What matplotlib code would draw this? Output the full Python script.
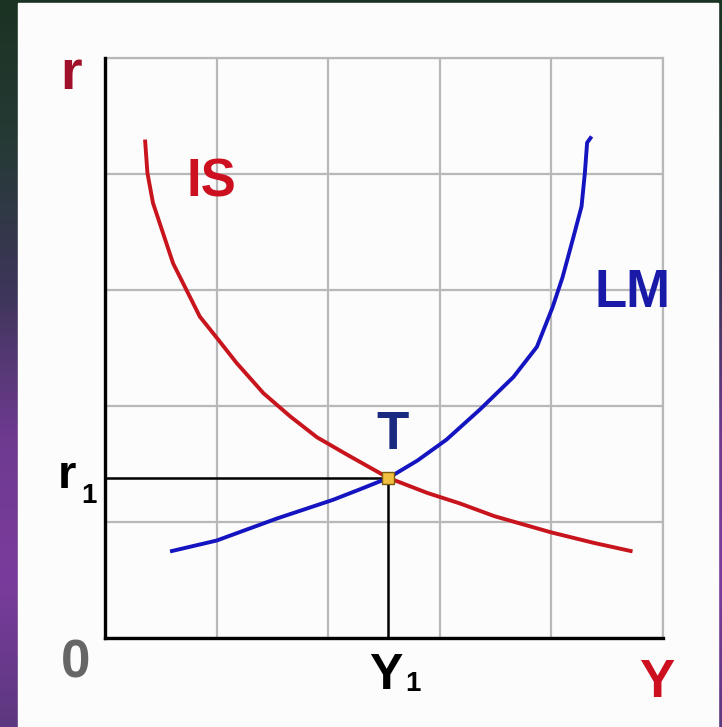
import numpy as np
import matplotlib.pyplot as plt
from matplotlib.colors import LinearSegmentedColormap
from matplotlib.patches import Rectangle

# IS curve (grid units)
is_x = [0.36, 0.38, 0.43, 0.52, 0.61, 0.73, 0.85, 1.00, 1.18, 1.42, 1.66, 1.90, 2.17,
        2.54, 2.89, 3.18, 3.49, 4.00, 4.38, 4.71]
is_y = [4.28, 4.01, 3.75, 3.49, 3.23, 3.00, 2.77, 2.59, 2.37, 2.11, 1.91, 1.73, 1.58,
        1.38, 1.25, 1.16, 1.05, 0.91, 0.82, 0.75]

# LM curve
lm_x = [0.60, 1.00, 1.54, 2.04, 2.28, 2.54, 2.80, 3.06, 3.36, 3.66, 3.87, 4.01, 4.10,
        4.19, 4.27, 4.30, 4.32, 4.35]
lm_y = [0.75, 0.84, 1.03, 1.19, 1.28, 1.38, 1.53, 1.71, 1.97, 2.25, 2.51, 2.85, 3.11,
        3.43, 3.72, 4.01, 4.27, 4.31]

# equilibrium point T
eq_x = 2.54
eq_y = 1.38

W, H = 722, 727
fig = plt.figure(figsize=(W / 100, H / 100), dpi=100)

# slide background
bg = fig.add_axes([0, 0, 1, 1])
cmap = LinearSegmentedColormap.from_list(
    "slide", ["#1b3322", "#263a36", "#3d3659", "#6e3a90", "#7a3c9c", "#5c3880"])
grad = np.linspace(0, 1, 256).reshape(-1, 1)
bg.imshow(grad, cmap=cmap, aspect="auto", extent=[0, 1, 0, 1], origin="upper")
bg.add_patch(Rectangle((18 / W, 0), 700 / W, 724 / H, color="#fcfcfc", zorder=2))
bg.set_xlim(0, 1)
bg.set_ylim(0, 1)
bg.axis("off")

ax = fig.add_axes([105 / W, 89 / H, 558 / W, 580 / H])
ax.set_facecolor("none")
ax.set_xlim(0, 5)
ax.set_ylim(0, 5)
ax.set_xticks(range(6))
ax.set_yticks(range(6))
ax.tick_params(length=0, labelbottom=False, labelleft=False)
ax.grid(color="#b8b8b8", lw=1.6)
for s in ["top", "right"]:
    ax.spines[s].set_color("#b8b8b8")
    ax.spines[s].set_linewidth(1.6)
for s in ["left", "bottom"]:
    ax.spines[s].set_color("black")
    ax.spines[s].set_linewidth(2.4)
    ax.spines[s].set_zorder(5)

# guide lines to the axes
ax.plot([0, eq_x], [eq_y, eq_y], color="black", lw=1.8, zorder=3)
ax.plot([eq_x, eq_x], [0, eq_y], color="black", lw=1.8, zorder=3)

ax.plot(is_x, is_y, color="#c8141c", lw=2.8, zorder=4, solid_joinstyle="round")
ax.plot(lm_x, lm_y, color="#1414c0", lw=2.8, zorder=4, solid_joinstyle="round")
ax.plot(eq_x, eq_y, marker="s", ms=8, color="#f2c040", mec="#7a5a10", mew=1, zorder=6)

fnt = "Liberation Sans"
ax.text(-0.30, 4.85, "r", color="#a0102a", fontsize=40, fontweight="bold",
        family=fnt, ha="center", va="center", clip_on=False)
ax.text(0.95, 3.93, "IS", color="#cc1020", fontsize=38, fontweight="bold",
        family=fnt, ha="center", va="center")
ax.text(4.73, 2.97, "LM", color="#1a1aa8", fontsize=38, fontweight="bold",
        family=fnt, ha="center", va="center", clip_on=False)
ax.text(2.58, 1.75, "T", color="#1a2a80", fontsize=38, fontweight="bold",
        family=fnt, ha="center", va="center")
ax.text(-0.34, 1.40, "r", color="black", fontsize=34, fontweight="bold",
        family=fnt, ha="center", va="center", clip_on=False)
ax.text(-0.14, 1.22, "1", color="black", fontsize=20, fontweight="bold",
        family=fnt, ha="center", va="center", clip_on=False)
ax.text(-0.26, -0.22, "0", color="#666666", fontsize=38, fontweight="bold",
        family=fnt, ha="center", va="center", clip_on=False)
ax.text(2.52, -0.33, "Y", color="black", fontsize=36, fontweight="bold",
        family=fnt, ha="center", va="center", clip_on=False)
ax.text(2.76, -0.40, "1", color="black", fontsize=20, fontweight="bold",
        family=fnt, ha="center", va="center", clip_on=False)
ax.text(4.94, -0.39, "Y", color="#cc1020", fontsize=38, fontweight="bold",
        family=fnt, ha="center", va="center", clip_on=False)

fig.savefig("out.png", dpi=100)
